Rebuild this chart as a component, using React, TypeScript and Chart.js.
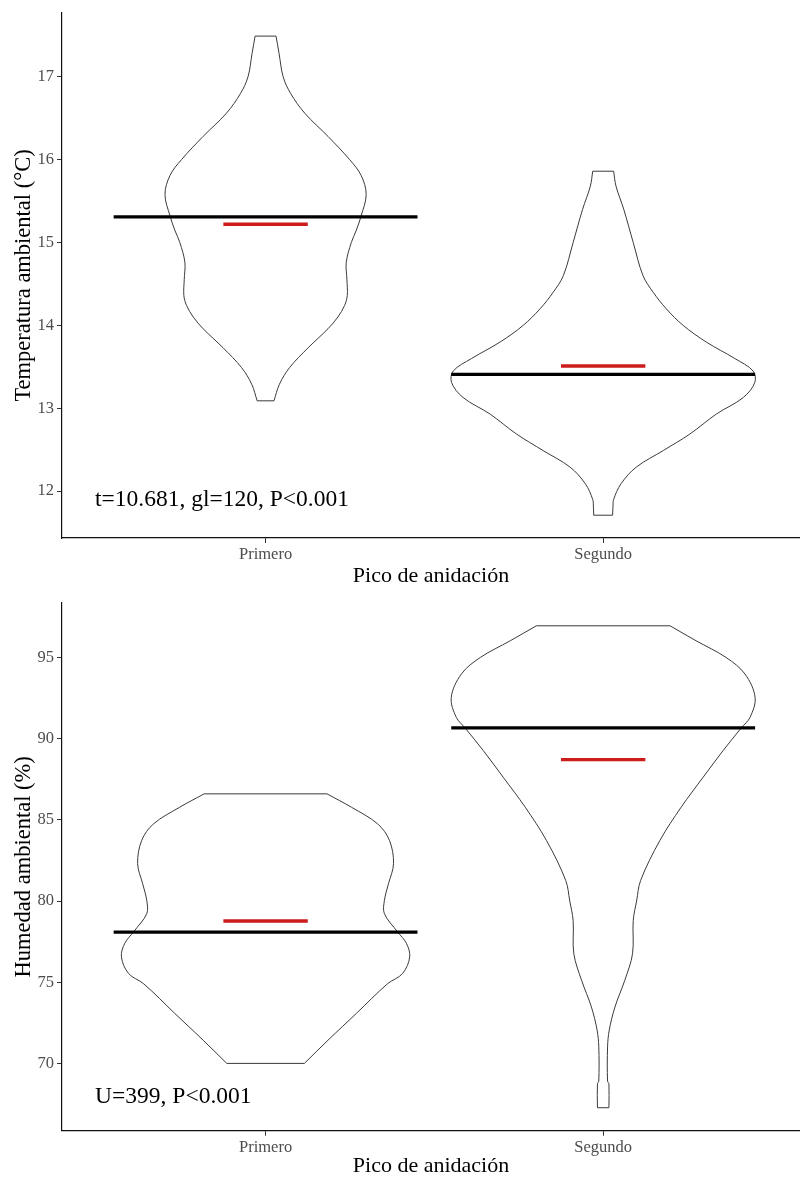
import React, { useEffect, useRef } from "react";
import { Chart, registerables } from "chart.js";

Chart.register(...registerables);

// ---------- DATA ----------
const categories = ["Primero", "Segundo"];

// Temperature panel: violin outline (value levels and half-widths in category units)
const tempPrimeroLevels = [13.09, 13.29, 13.49, 13.73, 13.96, 14.1, 14.24, 14.36, 14.55, 14.76, 15.0, 15.15, 15.32, 15.58, 15.81, 16.0, 16.28, 16.56, 16.8, 17.0, 17.28, 17.49];
const tempPrimeroWidths = [0.025, 0.041, 0.071, 0.126, 0.185, 0.214, 0.234, 0.242, 0.241, 0.239, 0.254, 0.269, 0.283, 0.298, 0.283, 0.249, 0.185, 0.116, 0.074, 0.052, 0.04, 0.031];
const tempSegundoLevels = [11.71, 11.81, 11.9, 12.09, 12.29, 12.49, 12.69, 12.93, 13.13, 13.31, 13.45, 13.6, 13.8, 14.0, 14.2, 14.4, 14.6, 15.0, 15.4, 15.68, 15.86];
const tempSegundoWidths = [0.028, 0.029, 0.031, 0.053, 0.098, 0.178, 0.257, 0.335, 0.415, 0.449, 0.444, 0.39, 0.305, 0.237, 0.187, 0.148, 0.118, 0.089, 0.061, 0.038, 0.031];
const tempMedians = [15.31, 13.41];
const tempMeans = [15.22, 13.51];
const tempTicks = [12, 13, 14, 15, 16, 17];

// Humidity panel
const humPrimeroLevels = [70.0, 71.43, 73.08, 74.9, 75.54, 76.56, 77.4, 78.1, 79.22, 80.04, 81.06, 82.3, 83.73, 84.75, 85.78, 86.6];
const humPrimeroWidths = [0.115, 0.185, 0.269, 0.361, 0.406, 0.427, 0.417, 0.391, 0.352, 0.352, 0.364, 0.379, 0.367, 0.332, 0.254, 0.182];
const humSegundoLevels = [67.27, 68.75, 68.9, 71.02, 72.05, 73.48, 75.12, 76.76, 78.8, 80.0, 81.27, 83.73, 85.78, 87.62, 89.26, 90.66, 91.31, 92.54, 93.98, 95.0, 96.03, 96.95];
const humSegundoWidths = [0.017, 0.017, 0.013, 0.013, 0.018, 0.035, 0.064, 0.087, 0.089, 0.099, 0.111, 0.168, 0.231, 0.296, 0.355, 0.409, 0.435, 0.45, 0.42, 0.364, 0.275, 0.198];
const humMedians = [78.09, 90.66];
const humMeans = [78.77, 88.71];
const humTicks = [70, 75, 80, 85, 90, 95];

const tempLabel = "t=10.681, gl=120, P<0.001";
const humLabel = "U=399, P<0.001";

// ---------- HELPERS ----------
const FONT = '"Liberation Serif", "Times New Roman", serif';
const MEDIAN_HALF = 0.45;
const MEAN_HALF = 0.125;

function sidePoints(center: number, levels: number[], widths: number[], sign: number) {
  return levels.map((y, i) => ({ x: center + sign * widths[i], y }));
}

function hLine(center: number, half: number, v: number) {
  return [
    { x: center - half, y: v },
    { x: center + half, y: v },
  ];
}

type PanelCfg = {
  violins: { levels: number[]; widths: number[] }[];
  medians: number[];
  means: number[];
  ticks: number[];
  yMin: number;
  yMax: number;
  yTitle: string;
  label: string;
  labelX: number;
  labelY: number;
  padTop: number;
  xAxisHeight: number;
  xTitlePadBottom: number;
};

const OUTLINE = "#3a3a3a";

function buildChart(canvas: HTMLCanvasElement, cfg: PanelCfg) {
  const datasets: any[] = [];
  cfg.violins.forEach((v, i) => {
    const n = v.levels.length;
    // left and right smooth sides
    [-1, 1].forEach((s) => {
      datasets.push({
        data: sidePoints(i, v.levels, v.widths, s),
        showLine: true,
        borderColor: OUTLINE,
        borderWidth: 1,
        pointRadius: 0,
        tension: 0.35,
        fill: false,
        order: 3,
      });
    });
    // flat bottom and top caps
    [0, n - 1].forEach((k) => {
      datasets.push({
        data: hLine(i, v.widths[k], v.levels[k]),
        showLine: true,
        borderColor: OUTLINE,
        borderWidth: 1,
        pointRadius: 0,
        tension: 0,
        order: 3,
      });
    });
  });
  cfg.medians.forEach((m, i) => {
    datasets.push({
      data: hLine(i, MEDIAN_HALF, m),
      showLine: true,
      borderColor: "#000000",
      borderWidth: 3.3,
      pointRadius: 0,
      tension: 0,
      order: 2,
    });
  });
  cfg.means.forEach((m, i) => {
    datasets.push({
      data: hLine(i, MEAN_HALF, m),
      showLine: true,
      borderColor: "#CC1C1C",
      borderWidth: 3.3,
      pointRadius: 0,
      tension: 0,
      order: 1,
    });
  });

  const annotationPlugin = {
    id: "panelText",
    afterDatasetsDraw(chart: any) {
      const { ctx, scales } = chart;
      ctx.save();
      ctx.font = `23.5px ${FONT}`;
      ctx.fillStyle = "#000";
      ctx.textAlign = "left";
      ctx.textBaseline = "middle";
      ctx.fillText(cfg.label, scales.x.getPixelForValue(cfg.labelX), scales.y.getPixelForValue(cfg.labelY));
      ctx.restore();
    },
  };

  return new Chart(canvas, {
    type: "scatter",
    data: { datasets },
    plugins: [annotationPlugin],
    options: {
      animation: false,
      responsive: false,
      layout: { padding: { top: cfg.padTop, left: 0, right: 0, bottom: 0 } },
      plugins: { legend: { display: false }, tooltip: { enabled: false } },
      scales: {
        x: {
          type: "linear",
          min: -0.603,
          max: 1.583,
          afterBuildTicks: (axis: any) => {
            axis.ticks = categories.map((_, i) => ({ value: i }));
          },
          afterFit: (axis: any) => {
            axis.height = cfg.xAxisHeight;
          },
          ticks: {
            callback: (v: any) => categories[v as number] ?? "",
            color: "#4d4d4d",
            font: { family: FONT, size: 16.5 },
            padding: 2,
            maxRotation: 0,
          },
          grid: { drawOnChartArea: false, drawTicks: true, tickLength: 5, color: "#333" },
          border: { display: true, color: "#111", width: 1.2 },
          title: {
            display: true,
            text: "Pico de anidación",
            color: "#000",
            font: { family: FONT, size: 22 },
            padding: { top: 0, bottom: cfg.xTitlePadBottom },
          },
        },
        y: {
          type: "linear",
          min: cfg.yMin,
          max: cfg.yMax,
          afterBuildTicks: (axis: any) => {
            axis.ticks = cfg.ticks.map((t) => ({ value: t }));
          },
          afterFit: (axis: any) => {
            axis.width = 62;
          },
          ticks: {
            color: "#4d4d4d",
            font: { family: FONT, size: 16.5 },
            padding: 3,
          },
          grid: { drawOnChartArea: false, drawTicks: true, tickLength: 5, color: "#333" },
          border: { display: true, color: "#111", width: 1.2 },
          title: {
            display: true,
            text: cfg.yTitle,
            color: "#000",
            font: { family: FONT, size: 22.5 },
            padding: { top: 11, bottom: 0 },
          },
        },
      },
    },
  } as any);
}

export default function App() {
  const topRef = useRef<HTMLCanvasElement>(null);
  const botRef = useRef<HTMLCanvasElement>(null);

  useEffect(() => {
    const c1 = buildChart(topRef.current!, {
      violins: [
        { levels: tempPrimeroLevels, widths: tempPrimeroWidths },
        { levels: tempSegundoLevels, widths: tempSegundoWidths },
      ],
      medians: tempMedians,
      means: tempMeans,
      ticks: tempTicks,
      yMin: 11.435,
      yMax: 17.77,
      yTitle: "Temperatura ambiental (°C)",
      label: tempLabel,
      labelX: -0.505,
      labelY: 11.89,
      padTop: 9,
      xAxisHeight: 52,
      xTitlePadBottom: 1,
    });
    const c2 = buildChart(botRef.current!, {
      violins: [
        { levels: humPrimeroLevels, widths: humPrimeroWidths },
        { levels: humSegundoLevels, widths: humSegundoWidths },
      ],
      medians: humMedians,
      means: humMeans,
      ticks: humTicks,
      yMin: 65.855,
      yMax: 98.36,
      yTitle: "Humedad ambiental (%)",
      label: humLabel,
      labelX: -0.505,
      labelY: 67.95,
      padTop: 12,
      xAxisHeight: 52.3,
      xTitlePadBottom: 4,
    });
    return () => {
      c1.destroy();
      c2.destroy();
    };
  }, []);

  return (
    <div style={{ position: "absolute", left: 0, top: 0, width: 800, height: 1183, background: "#fff" }}>
      <canvas ref={topRef} width={800} height={590} style={{ display: "block" }} />
      <canvas ref={botRef} width={800} height={593} style={{ display: "block" }} />
    </div>
  );
}
